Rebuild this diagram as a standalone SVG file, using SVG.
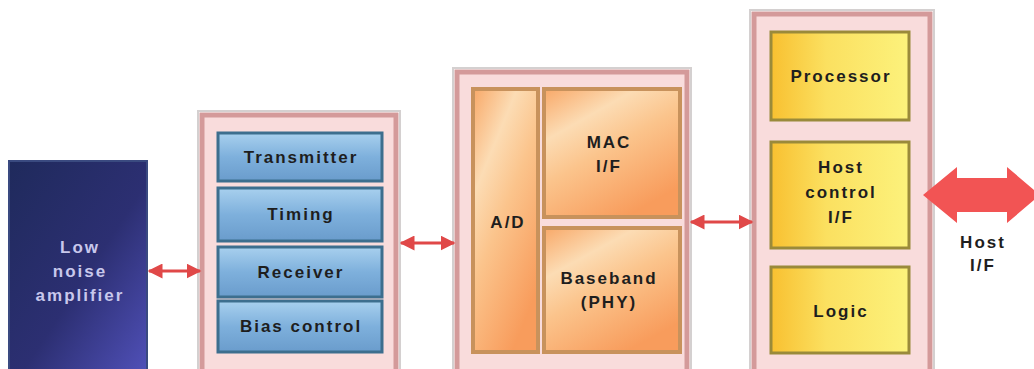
<svg xmlns="http://www.w3.org/2000/svg" width="1034" height="369" viewBox="0 0 1034 369">
<defs>
<linearGradient id="gNavy" x1="0" y1="0" x2="1" y2="1">
<stop offset="0" stop-color="#1f2a5c"/><stop offset="0.55" stop-color="#2c2f72"/><stop offset="1" stop-color="#5050b8"/>
</linearGradient>
<linearGradient id="gBlue" x1="0" y1="0" x2="0" y2="1">
<stop offset="0" stop-color="#a8d0ee"/><stop offset="0.5" stop-color="#7eb0dc"/><stop offset="1" stop-color="#6a9ccc"/>
</linearGradient>
<linearGradient id="gOrange" x1="0" y1="0" x2="0.6" y2="1">
<stop offset="0" stop-color="#f8a868"/><stop offset="0.3" stop-color="#fcdcb4"/><stop offset="0.55" stop-color="#fbc48c"/><stop offset="1" stop-color="#f89c5c"/>
</linearGradient>
<linearGradient id="gYellow" x1="0" y1="0" x2="1" y2="0">
<stop offset="0" stop-color="#f8c030"/><stop offset="0.4" stop-color="#fbe060"/><stop offset="1" stop-color="#fcf27c"/>
</linearGradient>
<marker id="ah" viewBox="0 0 10 10" refX="9" refY="5" markerWidth="5" markerHeight="5" orient="auto-start-reverse">
<path d="M0,0 L10,5 L0,10 z" fill="#e04848"/>
</marker>
<style>
.outer{fill:#f9dcdc;stroke:#d49a9a;stroke-width:5}
.edge{fill:none;stroke:#d4d0d0;stroke-width:2}
.blue{fill:url(#gBlue);stroke:#3d6e8e;stroke-width:3}
.orange{fill:url(#gOrange);stroke:#c8925c;stroke-width:4}
.yellow{fill:url(#gYellow);stroke:#9a8a3a;stroke-width:3}
.t{font-family:"Liberation Sans",Arial,sans-serif;font-size:17px;font-weight:bold;letter-spacing:2px;text-anchor:middle;fill:#1e1e1e}
.tl{font-family:"Liberation Sans",Arial,sans-serif;font-size:17px;font-weight:bold;letter-spacing:2px;text-anchor:middle;fill:#c8c8ec}
.conn{stroke:#e04848;stroke-width:3;fill:none;marker-start:url(#ah);marker-end:url(#ah)}
</style>
</defs>
<rect width="1034" height="369" fill="#ffffff"/>

<g id="lna">
<rect x="9" y="161" width="138" height="210" fill="url(#gNavy)" stroke="#3a4a80" stroke-width="2"/>
<text class="tl" x="80" y="253">Low</text>
<text class="tl" x="80" y="277">noise</text>
<text class="tl" x="80" y="301">amplifier</text>
</g>

<g id="radio">
<rect class="edge" x="198" y="111" width="202" height="264"/>
<rect class="outer" x="202" y="115" width="194" height="258"/>
<g id="transmitter"><rect class="blue" x="218" y="133" width="164" height="48"/><text class="t" x="301" y="163">Transmitter</text></g>
<g id="timing"><rect class="blue" x="218" y="188" width="164" height="53"/><text class="t" x="301" y="220">Timing</text></g>
<g id="receiver"><rect class="blue" x="218" y="247" width="164" height="50"/><text class="t" x="301" y="278">Receiver</text></g>
<g id="bias"><rect class="blue" x="218" y="301" width="164" height="51"/><text class="t" x="301" y="332">Bias control</text></g>
</g>

<g id="baseband-chip">
<rect class="edge" x="453" y="68" width="238" height="306"/>
<rect class="outer" x="457" y="72" width="230" height="300"/>
<g id="ad"><rect class="orange" x="473" y="89" width="65" height="263"/><text class="t" x="508" y="228">A/D</text></g>
<g id="mac"><rect class="orange" x="544" y="89" width="136" height="128"/><text class="t" x="609" y="148">MAC</text><text class="t" x="609" y="172">I/F</text></g>
<g id="baseband"><rect class="orange" x="544" y="228" width="136" height="124"/><text class="t" x="609" y="284">Baseband</text><text class="t" x="609" y="308">(PHY)</text></g>
</g>

<g id="host-chip">
<rect class="edge" x="750" y="10" width="184" height="364"/>
<rect class="outer" x="754" y="14" width="176" height="360"/>
<g id="processor"><rect class="yellow" x="771" y="32" width="138" height="88"/><text class="t" x="841" y="82">Processor</text></g>
<g id="hostctl"><rect class="yellow" x="771" y="142" width="138" height="106"/><text class="t" x="841" y="173">Host</text><text class="t" x="841" y="198">control</text><text class="t" x="841" y="223">I/F</text></g>
<g id="logic"><rect class="yellow" x="771" y="267" width="138" height="86"/><text class="t" x="841" y="317">Logic</text></g>
</g>

<g id="connectors">
<line class="conn" x1="149" y1="271" x2="200" y2="271"/>
<line class="conn" x1="401" y1="243" x2="454" y2="243"/>
<line class="conn" x1="691" y1="222" x2="752" y2="222"/>
<path d="M923,195 L957,167 L957,178 L1007,178 L1007,167 L1040,195 L1007,223 L1007,212 L957,212 L957,223 Z" fill="#f25454"/>
</g>
<g id="host-label">
<text class="t" x="983" y="248" fill="#333">Host</text>
<text class="t" x="983" y="271">I/F</text>
</g>
</svg>
